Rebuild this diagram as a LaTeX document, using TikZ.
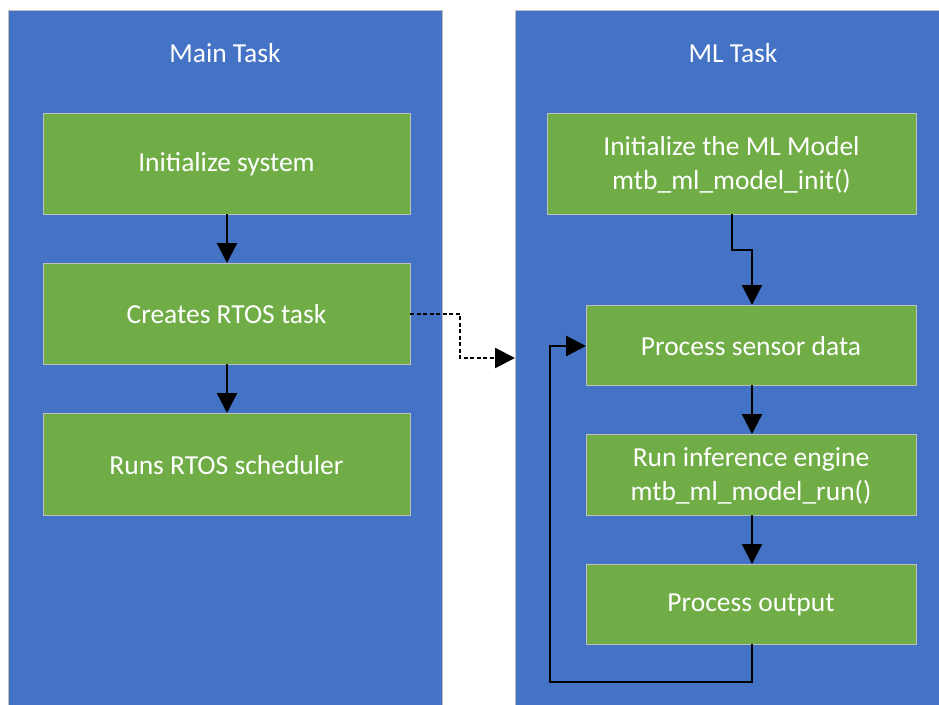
\documentclass[tikz,border=0pt]{standalone}
\usepackage{fontspec}
\setmainfont{Carlito}
\usetikzlibrary{arrows.meta}
\definecolor{panelblue}{HTML}{4472C4}
\definecolor{stepgreen}{HTML}{70AD47}
\definecolor{edgegray}{HTML}{BFBFBF}
\begin{document}
\begin{tikzpicture}[x=1pt,y=-1pt,
  panel/.style={fill=panelblue,draw=edgegray,line width=0.8pt},
  stepbox/.style={fill=stepgreen,draw=edgegray,line width=0.8pt},
  lbl/.style={text=white,font=\fontsize{27.5}{34}\selectfont,align=center,inner sep=0pt},
  flow/.style={line width=2.3pt,-{Triangle[length=20pt,width=20pt]}},
  spawn/.style={flow,dash pattern=on 4pt off 2.5pt}]
\useasboundingbox (0,0) rectangle (939,704);
% task panels
\draw[panel] (8,10) rectangle (442,710);
\draw[panel] (515,10) rectangle (945,710);
\node[lbl] (mainT) at (225,53) {Main Task};
\node[lbl] (mlT) at (733,53) {ML Task};
% main task steps
\draw[stepbox] (43,113) rectangle (410,214);
\node[lbl] (init) at (226.5,164) {Initialize system};
\draw[stepbox] (43,263) rectangle (410,364);
\node[lbl] (create) at (226.5,314) {Creates RTOS task};
\draw[stepbox] (43,413) rectangle (410,515);
\node[lbl] (sched) at (226.5,465) {Runs RTOS scheduler};
% ML task steps
\draw[stepbox] (547,113) rectangle (916,214);
\node[lbl] (mlinit) at (731.5,165) {Initialize the ML Model\\mtb\_ml\_model\_init()};
\draw[stepbox] (586,305) rectangle (916,385);
\node[lbl] (sensor) at (751,346) {Process sensor data};
\draw[stepbox] (586,434) rectangle (916,515);
\node[lbl] (infer) at (751,476) {Run inference engine\\mtb\_ml\_model\_run()};
\draw[stepbox] (586,564) rectangle (916,644);
\node[lbl] (output) at (751,605) {Process output};
% anchors on box edges
\coordinate (initS) at (227,214);
\coordinate (createN) at (227,263);
\coordinate (createS) at (227,364);
\coordinate (schedN) at (227,413);
\coordinate (createE) at (410,314);
\coordinate (mlPanelW) at (515,358);
\coordinate (mlinitS) at (732,214);
\coordinate (sensorN) at (752,305);
\coordinate (sensorS) at (752,385);
\coordinate (inferN) at (752,434);
\coordinate (inferS) at (752,515);
\coordinate (outputN) at (752,564);
\coordinate (outputS) at (752,644);
\coordinate (sensorW) at (586,346);
% connectors
\draw[flow] (initS) -- (createN);
\draw[flow] (createS) -- (schedN);
\draw[spawn] (createE) -- (460,314) -- (460,358) -- (mlPanelW);
\draw[flow] (mlinitS) -- (732,250) -- (752,250) -- (sensorN);
\draw[flow] (sensorS) -- (inferN);
\draw[flow] (inferS) -- (outputN);
\draw[flow] (outputS) -- (752,682) -- (550,682) -- (550,346) -- (sensorW);
\end{tikzpicture}
\end{document}
